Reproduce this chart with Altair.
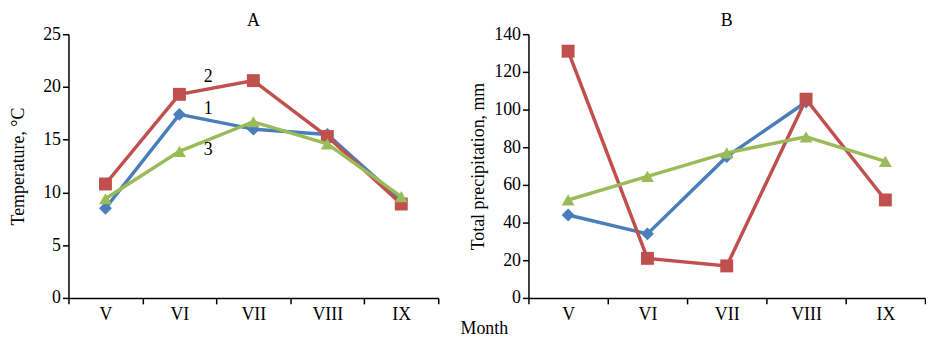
import altair as alt
import pandas as pd

months = ["V", "VI", "VII", "VIII", "IX"]
series_names = ["1", "2", "3"]

temp_1 = [8.5, 17.4, 16.0, 15.5, 9.2]
temp_2 = [10.8, 19.3, 20.6, 15.3, 8.9]
temp_3 = [9.4, 13.9, 16.7, 14.6, 9.6]

prec_1 = [44.0, 34.0, 75.0, 104.0, None]
prec_2 = [131.0, 21.0, 17.0, 105.5, 52.0]
prec_3 = [52.0, 64.5, 77.0, 85.5, 72.5]

label_text = ["2", "1", "3"]
label_month = ["VI", "VI", "VI"]
label_value = [20.9, 17.9, 14.0]

colors = ["#4A7EBB", "#C0504D", "#9BBB59"]
shapes = ["diamond", "square", "triangle-up"]
FONT = "Liberation Serif"


def make_df(values):
    rows = [(m, v) for m, v in zip(months, values) if v is not None]
    return pd.DataFrame(rows, columns=["month", "value"])


def panel(series, title, ytitle, ymax, ystep, width, month_title=False, labels=None):
    x = alt.X(
        "month:O",
        sort=months,
        bandPosition=0.5,
        scale=alt.Scale(type="band", domain=months, paddingInner=0, paddingOuter=0),
        axis=alt.Axis(
            title="Month" if month_title else None,
            tickBand="extent",
            labelAngle=0,
            labelPadding=2,
            titleX=419,
            titleY=36,
            titleAlign="center",
            titleBaseline="alphabetic",
        ),
    )
    y = alt.Y(
        "value:Q",
        scale=alt.Scale(domain=[0, ymax], nice=False, zero=True),
        axis=alt.Axis(
            values=list(range(0, ymax + 1, ystep)),
            title=ytitle,
            titleX=-41,
            labelPadding=2,
        ),
    )
    layers = []
    for vals, c, s in zip(series, colors, shapes):
        df = make_df(vals)
        base = alt.Chart(df).encode(x=x, y=y)
        layers.append(base.mark_line(color=c, strokeWidth=3.5))
        layers.append(base.mark_point(shape=s, filled=True, size=170, color=c, opacity=1))
    if labels is not None:
        ldf = pd.DataFrame({"month": labels[1], "value": labels[2], "text": labels[0]})
        layers.append(
            alt.Chart(ldf)
            .mark_text(font=FONT, fontSize=18, dx=29, color="black")
            .encode(x=x, y=y, text="text:N")
        )
    return alt.layer(*layers).properties(
        width=width,
        height=266,
        title=alt.TitleParams(title, offset=-5, anchor="middle"),
    )


chart_a = panel([temp_1, temp_2, temp_3], "A", "Temperature, °C", 25, 5, 373,
                month_title=True, labels=(label_text, label_month, label_value))
chart_b = panel([prec_1, prec_2, prec_3], "B", "Total precipitation, mm", 140, 20, 400)

chart = (
    alt.hconcat(chart_a, chart_b, spacing=91, bounds="flush")
    .properties(padding={"left": 2, "top": 3, "right": 0, "bottom": 0})
    .configure_view(strokeWidth=0)
    .configure_axis(
        domainColor="black",
        tickColor="black",
        labelColor="black",
        titleColor="black",
        labelFont=FONT,
        titleFont=FONT,
        labelFontSize=18,
        titleFontSize=18,
        titleFontWeight="normal",
        grid=False,
        domainWidth=1.5,
        tickWidth=1.5,
        tickSize=6,
    )
    .configure_title(font=FONT, fontSize=18, fontWeight="normal", color="black")
)

chart.save("out.html", embed_options={"renderer": "svg", "actions": False})
